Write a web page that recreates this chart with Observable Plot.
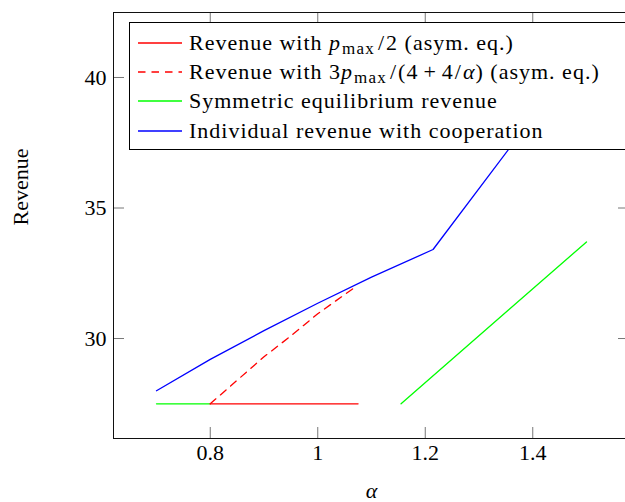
<!DOCTYPE html>
<html><head><meta charset="utf-8">
<script src="https://cdn.jsdelivr.net/npm/d3@7"></script>
<script src="https://cdn.jsdelivr.net/npm/@observablehq/plot@0.6"></script>
<style>
html,body{margin:0;padding:0;overflow:hidden;width:625px;height:502px;background:#fff}
#wrap{position:relative;width:625px;height:502px;overflow:hidden}
#wrap > svg{position:absolute;left:0;top:0;max-width:none !important;width:640px;height:502px}
#legend{position:absolute;left:129px;top:22px;width:520px;height:128px;border:1px solid #000;background:#fff;
 font-family:"Liberation Serif","Times New Roman",serif;font-size:22px;letter-spacing:1px;color:#000;box-sizing:border-box}
.row{position:absolute;left:0;height:29px;display:flex;align-items:center;white-space:nowrap}
.row svg{display:block;margin-left:8px;margin-right:7px}
sub{font-size:17px;vertical-align:-4px;line-height:0;letter-spacing:1.2px;margin-left:1px;margin-right:2px}
.op{display:inline-block;margin:0 5px}
.sl{display:inline-block;margin:0 1px}
</style></head>
<body><div id="wrap"></div>
<script>
// ---- data ----
const xTicks = [0.8, 1, 1.2, 1.4];
const yTicks = [30, 35, 40];
const redSolidAlpha = [0.8, 1.075];
const redSolidRevenue = [27.5, 27.5];
const redDashAlpha = [0.8, 0.85, 0.9, 0.95, 1.0, 1.065];
const redDashRevenue = [27.5, 28.4, 29.3, 30.1, 30.95, 31.9];
const greenAlpha = [0.7, 0.8, 0.98, 1.155, 1.5];
const greenRevenue = [27.5, 27.5, null, 27.5, 33.7];
const blueAlpha = [0.7, 0.8, 0.9, 1.0, 1.1, 1.2145, 1.5];
const blueRevenue = [28.0, 29.2, 30.3, 31.35, 32.35, 33.41, 41.2];
const legendLabels = [
  'Revenue with <i>p</i><sub>max</sub><span class="sl">/</span>2 (asym. eq.)',
  'Revenue with 3<i>p</i><sub>max</sub><span class="sl">/</span>(4<span class="op">+</span>4<span class="sl">/</span><i>α</i>) (asym. eq.)',
  'Symmetric equilibrium revenue',
  'Individual revenue with cooperation'
];
const legendColors = ["#ff0000", "#ff0000", "#00ff00", "#0000ff"];
const legendDash = [null, "7.5,6", null, null];

const toRows = (xs, ys) => xs.map((x, i) => ({x, y: ys[i]}));
const W = 640, H = 502, mL = 113, mR = 11, mT = 12, mB = 64;
const innerW = W - mL - mR, innerH = H - mT - mB, tl = 11;
const lw = 1.3;

const chart = Plot.plot({
  width: W, height: H,
  marginLeft: mL, marginRight: mR, marginTop: mT, marginBottom: mB,
  style: {fontFamily: "'Liberation Serif', 'Times New Roman', serif", fontSize: "22px", color: "#000", background: "#fff", maxWidth: "none"},
  x: {domain: [0.62, 1.58], label: null},
  y: {domain: [26.17, 42.49], label: null},
  marks: [
    Plot.axisX(xTicks, {anchor: "bottom", label: null, tickSize: 0, tickPadding: 6, tickFormat: d => String(d), fontSize: 22}),
    Plot.axisY(yTicks, {anchor: "left", label: null, tickSize: 0, tickPadding: 7, tickFormat: d => String(d), fontSize: 22}),
    Plot.tickX(xTicks, {x: d => d, stroke: "#777", insetTop: innerH - tl}),
    Plot.tickX(xTicks, {x: d => d, stroke: "#777", insetBottom: innerH - tl}),
    Plot.tickY(yTicks, {y: d => d, stroke: "#777", insetRight: innerW - tl}),
    Plot.tickY(yTicks, {y: d => d, stroke: "#777", insetLeft: innerW - tl}),
    Plot.line(toRows(greenAlpha, greenRevenue), {x: "x", y: "y", stroke: "#00ff00", strokeWidth: lw}),
    Plot.line(toRows(redSolidAlpha, redSolidRevenue), {x: "x", y: "y", stroke: "#ff0000", strokeWidth: lw}),
    Plot.line(toRows(redDashAlpha, redDashRevenue), {x: "x", y: "y", stroke: "#ff0000", strokeWidth: lw, strokeDasharray: "7.5,6"}),
    Plot.line(toRows(blueAlpha, blueRevenue), {x: "x", y: "y", stroke: "#0000ff", strokeWidth: lw}),
    Plot.frame({stroke: "#111", strokeWidth: 1}),
    Plot.text(["α"], {frameAnchor: "bottom", dy: 52, fontSize: 22, fontStyle: "italic", lineAnchor: "middle"}),
    Plot.text(["Revenue"], {frameAnchor: "left", dx: -93, rotate: -90, fontSize: 22, lineAnchor: "middle"})
  ]
});
chart.style.maxWidth = "none";
const wrap = document.getElementById("wrap");
wrap.appendChild(chart);

const leg = document.createElement("div");
leg.id = "legend";
legendLabels.forEach((lab, i) => {
  const r = document.createElement("div");
  r.className = "row";
  r.style.top = (5.5 + i * 29.2) + "px";
  const dash = legendDash[i] ? ` stroke-dasharray="${legendDash[i]}"` : "";
  r.innerHTML = `<svg width="44" height="4"><line x1="0" x2="44" y1="2" y2="2" stroke="${legendColors[i]}" stroke-width="${lw}"${dash}/></svg><span>${lab}</span>`;
  leg.appendChild(r);
});
wrap.appendChild(leg);
</script></body></html>
